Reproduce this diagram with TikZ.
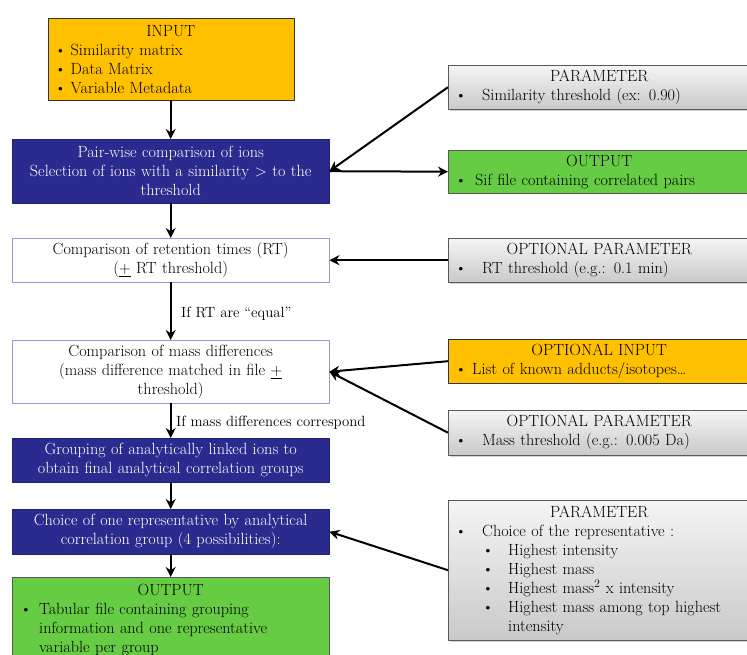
\documentclass[tikz,border=0pt]{standalone}
\usepackage{fontspec}
\usetikzlibrary{arrows.meta,shadows}
\definecolor{jaune}{RGB}{255,192,0}
\definecolor{bleu}{RGB}{43,42,142}
\definecolor{vert}{RGB}{102,204,68}
\definecolor{lilas}{RGB}{150,150,230}
% puce : retrait de la puce, retrait du texte, texte
\newcommand\puce[3]{\par\hangindent=#2\hangafter=1\noindent\hspace*{#1}\makebox[\dimexpr#2-#1\relax][l]{\textbullet}#3\par}
\newcommand\titre[1]{\centerline{#1}}
\begin{document}
\begin{tikzpicture}[x=1pt, y=-1pt, line join=round, >={Stealth[length=10pt,width=10pt]},
	font=\fontsize{16.2}{19}\selectfont,
	boite/.style={inner sep=0pt, anchor=north west, align=center},
	etape/.style={boite, draw=lilas, fill=white, text width=317pt},
	bleue/.style={boite, draw=bleu!80!black, fill=bleu, text=white, text width=317pt},
	liste/.style={boite, align=left, text width=#1},
	grise/.style={liste=302pt, draw=gray!70!black, top color=gray!8, bottom color=gray!42,
		drop shadow={shadow xshift=1.5pt, shadow yshift=-1.5pt, opacity=.35}},
	fleche/.style={->, line width=2pt},
	petit/.style={font=\fontsize{14.8}{17}\selectfont}]
	\useasboundingbox (0,0) rectangle (747,655);
	\def\g{12} % bord gauche
	\def\d{448} % bord droit
	% colonne de gauche
	\node[liste=246pt, draw=black!80, fill=jaune, minimum height=82pt] (input) at (47.5,18)
		{\titre{INPUT}\puce{7pt}{23pt}{Similarity matrix}\puce{7pt}{23pt}{Data Matrix}\puce{7pt}{23pt}{Variable Metadata}};
	\node[bleue, minimum height=64pt] (paire) at (\g,139)
		{Pair-wise comparison of ions\\Selection of ions with a similarity > to the\\threshold};
	\node[etape, minimum height=44pt] (rt) at (\g,238)
		{Comparison of retention times (RT)\\(\underline{+} RT threshold)};
	\node[etape, minimum height=63pt] (masse) at (\g,340)
		{Comparison of mass differences\\(mass difference matched in file \underline{+}\\threshold)};
	\node[bleue, minimum height=44pt] (groupe) at (\g,438)
		{Grouping of analytically linked ions to\\obtain final analytical correlation groups};
	\node[bleue, minimum height=45pt] (choix) at (\g,509)
		{Choice of one representative by analytical\\correlation group (4 possibilities):};
	\node[liste=317pt, draw=gray!70!black, fill=vert, minimum height=86pt] (sortie) at (\g,577)
		{\titre{OUTPUT}\puce{8pt}{27pt}{Tabular file containing grouping\newline information and one representative\newline variable per group}};
	% colonne de droite
	\node[grise, minimum height=44pt] (param) at (\d,65)
		{\titre{PARAMETER}\puce{7pt}{34pt}{Similarity threshold (ex: 0.90)}};
	\node[liste=302pt, draw=gray!70!black, fill=vert, minimum height=43pt] (sif) at (\d,150)
		{\titre{OUTPUT}\puce{7pt}{27pt}{Sif file containing correlated pairs}};
	\node[grise, minimum height=44pt] (optrt) at (\d,238)
		{\titre{OPTIONAL PARAMETER}\puce{7pt}{34pt}{RT threshold (e.g.: 0.1 min)}};
	\node[liste=302pt, draw=black!80, fill=jaune, minimum height=44pt] (optin) at (\d,339)
		{\titre{OPTIONAL INPUT}\puce{7pt}{24pt}{List of known adducts/isotopes\dots}};
	\node[grise, minimum height=45pt] (optmasse) at (\d,410)
		{\titre{OPTIONAL PARAMETER}\puce{7pt}{34pt}{Mass threshold (e.g.: 0.005 Da)}};
	\node[grise, minimum height=140pt] (repres) at (\d,500)
		{\titre{PARAMETER}\puce{7pt}{34pt}{Choice of the representative :}
		\puce{34pt}{60pt}{Highest intensity}\puce{34pt}{60pt}{Highest mass}
		\puce{34pt}{60pt}{Highest mass\textsuperscript{2} x intensity}
		\puce{34pt}{60pt}{Highest mass among top highest\newline intensity}};
	% fleches verticales
	\draw[fleche] (input.south) -- (paire.north);
	\draw[fleche] (paire.south) -- (rt.north);
	\draw[fleche] (rt.south) -- node[right, xshift=6pt, yshift=-3pt, petit]{If RT are ``equal''} (masse.north);
	\draw[fleche] (masse.south) -- node[right, xshift=1pt, yshift=-2pt, petit]{If mass differences correspond} (groupe.north);
	\draw[fleche] (groupe.south) -- (choix.north);
	\draw[fleche] (choix.south) -- (sortie.north);
	% liens lateraux
	\draw[fleche] (param.west) -- (paire.east);
	\draw[fleche] (paire.east) -- (sif.west);
	\draw[fleche] (optrt.west) -- (rt.east);
	\draw[fleche] (optin.west) -- (masse.east);
	\draw[fleche] (optmasse.west) -- (masse.east);
	\draw[fleche] (repres.west) -- (choix.east);
\end{tikzpicture}
\end{document}
